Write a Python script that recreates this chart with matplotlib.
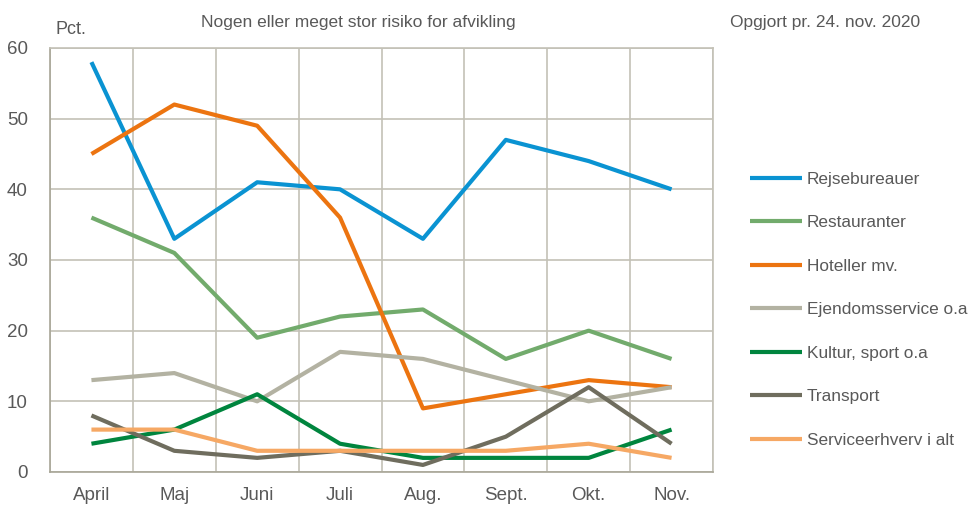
import numpy as np
import matplotlib.pyplot as plt

plt.rcParams['font.family'] = ['Liberation Sans', 'DejaVu Sans']

months = ["April", "Maj", "Juni", "Juli", "Aug.", "Sept.", "Okt.", "Nov."]

rejse = [58, 33, 41, 40, 33, 47, 44, 40]
restaurant = [36, 31, 19, 22, 23, 16, 20, 16]
hotel = [45, 52, 49, 36, 9, 11, 13, 12]
ejendom = [13, 14, 10, 17, 16, 13, 10, 12]
kultur = [4, 6, 11, 4, 2, 2, 2, 6]
transport = [8, 3, 2, 3, 1, 5, 12, 4]
service = [6, 6, 3, 3, 3, 3, 4, 2]

series = [
    ("Rejsebureauer", rejse, "#0A93D2"),
    ("Restauranter", restaurant, "#72AB6C"),
    ("Hoteller mv.", hotel, "#EC7410"),
    ("Ejendomsservice o.a", ejendom, "#B3B2A2"),
    ("Kultur, sport o.a", kultur, "#00853E"),
    ("Transport", transport, "#6F6D5E"),
    ("Serviceerhverv i alt", service, "#F6A864"),
]

grid_col = "#C3C1B6"
txt_col = "#595959"

fig = plt.figure(figsize=(9.71, 5.07), dpi=100)
ax = fig.add_axes([50 / 971, 1 - 472 / 507, 663 / 971, 424 / 507])

x = np.arange(len(months))
for name, vals, col in series:
    ax.plot(x, vals, color=col, lw=3, label=name, solid_capstyle="butt")

ax.set_xlim(-0.5, len(months) - 0.5)
ax.set_ylim(0, 60)
ax.set_yticks(range(0, 61, 10))
ax.set_xticks(x)
ax.set_xticklabels(months)
ax.set_xticks(np.arange(-0.5, len(months)), minor=True)
ax.grid(True, which="minor", axis="x", color=grid_col, lw=1.2)
ax.grid(True, which="major", axis="y", color=grid_col, lw=1.2)
ax.set_axisbelow(True)
ax.tick_params(axis="both", which="both", length=0, labelcolor=txt_col, labelsize=13.5)
ax.tick_params(axis="x", pad=11)
ax.tick_params(axis="y", pad=16)
for sp in ax.spines.values():
    sp.set_color(grid_col)
    sp.set_linewidth(1.2)
for sp in ["left", "bottom"]:
    ax.spines[sp].set_color("#A8A697")

fig.text(55 / 971, 1 - 30 / 507, "Pct.", color=txt_col, fontsize=13, va="center")
fig.text(358 / 971, 1 - 22 / 507, "Nogen eller meget stor risiko for afvikling",
         color=txt_col, fontsize=12.5, ha="center", va="center")
fig.text(825 / 971, 1 - 22 / 507, "Opgjort pr. 24. nov. 2020",
         color=txt_col, fontsize=12.5, ha="center", va="center")

leg = ax.legend(loc="upper left", bbox_to_anchor=(743 / 971, 1 - 165 / 507),
                bbox_transform=fig.transFigure, frameon=False, fontsize=12.4,
                labelspacing=1.65, handlelength=3.05, handletextpad=0.25,
                borderaxespad=0)
for t in leg.get_texts():
    t.set_color(txt_col)

fig.savefig("out.png", dpi=100)
